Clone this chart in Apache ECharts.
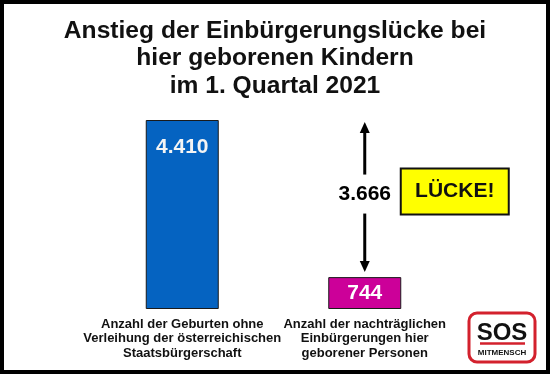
<!DOCTYPE html>
<html>
<head>
<meta charset="utf-8">
<script src="https://cdn.jsdelivr.net/npm/echarts@6/dist/echarts.min.js"></script>
<style>
html,body{margin:0;padding:0;background:#fff;}
#chart{width:550px;height:374px;}
</style>
</head>
<body>
<div id="chart"></div>
<script>
// ---- data ----
const titleLines = ['Anstieg der Einbürgerungslücke bei', 'hier geborenen Kindern', 'im 1. Quartal 2021'];
const categories = [
  'Anzahl der Geburten ohne\nVerleihung der österreichischen\nStaatsbürgerschaft',
  'Anzahl der nachträglichen\nEinbürgerungen hier\ngeborener Personen'
];
const values = [4410, 744];
const gapText = 'LÜCKE!';
const logoTop = 'SOS';
const logoBottom = 'MITMENSCH';

// ---- styles ----
const FONT = '"Liberation Sans", Arial, Helvetica, sans-serif';
const barColors = ['#0563c1', '#cc0099'];
const labelColors = ['#f4f4f4', '#ffffff'];

function fmt(v) { return String(v).replace(/\B(?=(\d{3})+(?!\d))/g, '.'); }

const chart = echarts.init(document.getElementById('chart'), null, {renderer: 'canvas'});

const option = {
  backgroundColor: '#ffffff',
  animation: false,
  textStyle: {fontFamily: FONT},
  title: {
    text: titleLines.join('\n'),
    left: 'center',
    top: 17,
    padding: 0,
    textStyle: {fontFamily: FONT, fontSize: 24.6, fontWeight: 'bold', color: '#111', lineHeight: 27.5}
  },
  grid: {left: 91, right: 94, top: 120, bottom: 65},
  xAxis: {
    type: 'category',
    data: categories,
    axisLine: {show: false},
    axisTick: {show: false},
    splitLine: {show: false},
    axisLabel: {
      interval: 0, margin: 8, fontFamily: FONT, fontSize: 13, fontWeight: 'bold',
      color: '#111', lineHeight: 14.5, align: 'center'
    }
  },
  yAxis: {type: 'value', min: 0, max: values[0], show: false, splitLine: {show: false}},
  series: [
    {
      type: 'bar',
      barWidth: 73,
      data: values.map((v, i) => ({
        value: v,
        itemStyle: {color: barColors[i], borderColor: '#1a1a1a', borderWidth: 1},
        label: {
          show: true,
          position: i === 0 ? 'insideTop' : 'inside',
          distance: 17,
          formatter: fmt(v),
          fontFamily: FONT, fontSize: 21, fontWeight: 'bold', color: labelColors[i]
        }
      }))
    },
    {
      type: 'custom',
      clip: false,
      silent: true,
      data: [[1, values[0], values[1]]],
      encode: {x: 0, y: [1, 2]},
      renderItem: function (params, api) {
        const cat = api.value(0);
        const top = api.coord([cat, api.value(1)]);
        const bot = api.coord([cat, api.value(2)]);
        const cx = top[0];
        const textY = (top[1] + bot[1]) / 2 - 4;
        const tipTop = top[1] + 2;
        const tipBot = bot[1] - 5;
        const hl = 11, hw = 5;
        const diff = api.value(1) - api.value(2);
        return {
          type: 'group',
          children: [
            {type: 'line', shape: {x1: cx, y1: tipTop + hl - 1, x2: cx, y2: textY - 20}, style: {stroke: '#000', lineWidth: 3}},
            {type: 'polygon', shape: {points: [[cx, tipTop], [cx - hw, tipTop + hl], [cx + hw, tipTop + hl]]}, style: {fill: '#000'}},
            {type: 'line', shape: {x1: cx, y1: textY + 19, x2: cx, y2: tipBot - hl + 1}, style: {stroke: '#000', lineWidth: 3}},
            {type: 'polygon', shape: {points: [[cx, tipBot], [cx - hw, tipBot - hl], [cx + hw, tipBot - hl]]}, style: {fill: '#000'}},
            {type: 'text', style: {x: cx, y: textY, text: fmt(diff), align: 'center', verticalAlign: 'middle', fontFamily: FONT, fontSize: 21, fontWeight: 'bold', fill: '#000'}},
            {type: 'rect', shape: {x: cx + 36, y: textY - 26, width: 108, height: 46}, style: {fill: '#ffff00', stroke: '#111', lineWidth: 2}},
            {type: 'text', style: {x: cx + 90, y: textY - 3, text: gapText, align: 'center', verticalAlign: 'middle', fontFamily: FONT, fontSize: 21, fontWeight: 'bold', fill: '#111'}}
          ]
        };
      }
    }
  ],
  graphic: [
    {type: 'rect', silent: true, z: 100, shape: {x: 2, y: 2, width: 546, height: 370}, style: {fill: 'none', stroke: '#000', lineWidth: 4}},
    {
      type: 'group', silent: true, z: 100,
      children: [
        {type: 'rect', shape: {x: 469, y: 313, width: 66, height: 49, r: 8}, style: {fill: '#fff', stroke: '#d3212d', lineWidth: 3}},
        {type: 'text', style: {x: 502, y: 333, text: logoTop, align: 'center', verticalAlign: 'middle', fontFamily: FONT, fontSize: 24, fontWeight: 'bold', fill: '#111'}},
        {type: 'line', shape: {x1: 480, y1: 343.5, x2: 525, y2: 343.5}, style: {stroke: '#d3212d', lineWidth: 2.5}},
        {type: 'text', style: {x: 502, y: 353, text: logoBottom, align: 'center', verticalAlign: 'middle', fontFamily: FONT, fontSize: 8, fontWeight: 'bold', fill: '#111'}}
      ]
    }
  ]
};
chart.setOption(option);
</script>
</body>
</html>
